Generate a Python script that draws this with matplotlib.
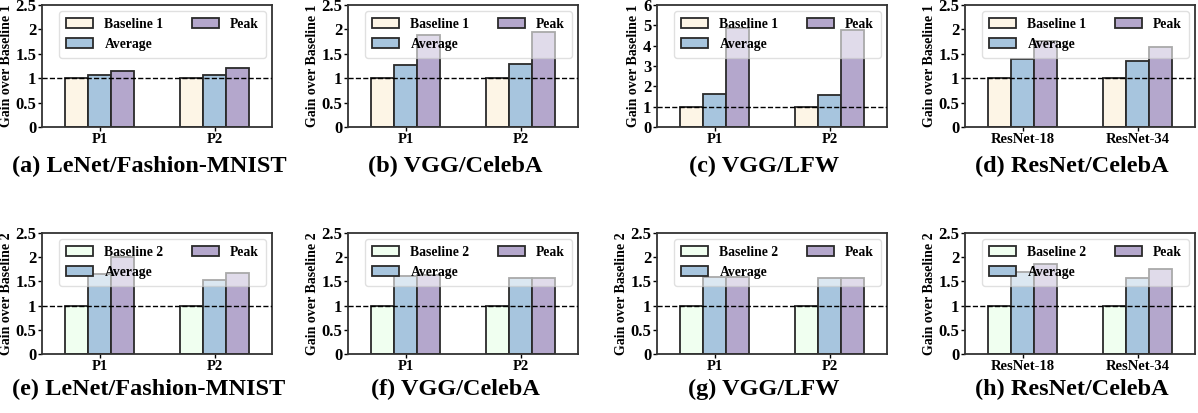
import matplotlib
matplotlib.use('Agg')
import matplotlib.pyplot as plt
import numpy as np

plt.rcParams['font.family'] = ['Liberation Serif', 'DejaVu Serif']
plt.rcParams['font.weight'] = 'bold'

# data
TOP_GROUPS = [["P1", "P2"], ["P1", "P2"], ["P1", "P2"], ["ResNet-18", "ResNet-34"]]
TOP_TITLES = ["(a) LeNet/Fashion-MNIST", "(b) VGG/CelebA", "(c) VGG/LFW", "(d) ResNet/CelebA"]
TOP_AVG = [[1.07, 1.07], [1.27, 1.30], [1.61, 1.57], [1.39, 1.35]]
TOP_PEAK = [[1.15, 1.21], [1.88, 1.94], [4.85, 4.75], [1.76, 1.63]]
TOP_YMAX = [2.5, 2.5, 6, 2.5]

BOT_GROUPS = [["P1", "P2"], ["P1", "P2"], ["P1", "P2"], ["ResNet-18", "ResNet-34"]]
BOT_TITLES = ["(e) LeNet/Fashion-MNIST", "(f) VGG/CelebA", "(g) VGG/LFW", "(h) ResNet/CelebA"]
BOT_AVG = [[1.65, 1.52], [1.61, 1.56], [1.60, 1.56], [1.70, 1.56]]
BOT_PEAK = [[2.01, 1.68], [1.63, 1.56], [1.60, 1.56], [1.85, 1.75]]
BOT_YMAX = [2.5, 2.5, 2.5, 2.5]

C_BASE1 = '#fdf5e6'
C_BASE2 = '#f0fff0'
C_AVG = '#a7c5de'
C_PEAK = '#b4a7cc'

W, H = 1198, 413
fig = plt.figure(figsize=(W / 100, H / 100), dpi=100)

LEFTS = [42, 348, 657, 965]
AX_W = 230
ROWS = [(5, 127), (233, 354)]
TITLE_Y = [166, 389]


def draw_panel(ax, groups, avg, peak, ymax, base_label, base_color):
    x = np.arange(len(groups))
    bw = 0.2
    kw = dict(width=bw, edgecolor='#2a2a2a', linewidth=1.3)
    ax.bar(x - bw, np.ones(len(groups)), color=base_color, label=base_label, **kw)
    ax.bar(x, avg, color=C_AVG, label='Average', **kw)
    ax.bar(x + bw, peak, color=C_PEAK, label='Peak', **kw)
    ax.axhline(1, color='black', linestyle='--', linewidth=1, zorder=3)
    ax.set_xlim(-0.5, 1.5)
    ax.set_ylim(0, ymax)
    ax.set_xticks(x)
    ax.set_xticklabels(groups, fontsize=10.5, fontweight='bold')
    if ymax == 6:
        ax.set_yticks([0, 1, 2, 3, 4, 5, 6])
        ax.set_yticklabels(['0', '1', '2', '3', '4', '5', '6'], fontsize=12, fontweight='bold')
    else:
        ax.set_yticks([0, 0.5, 1, 1.5, 2, 2.5])
        ax.set_yticklabels(['0', '0.5', '1', '1.5', '2', '2.5'], fontsize=12, fontweight='bold')
    ax.tick_params(axis='both', length=3, width=1, pad=1)
    ax.set_ylabel('Gain over ' + base_label, fontsize=10, fontweight='bold', labelpad=2)
    for s in ax.spines.values():
        s.set_linewidth(1.3)
        s.set_color('#333333')
    leg = ax.legend(ncol=2, loc='upper right', prop={'weight': 'bold', 'size': 9.8},
                    handlelength=2.0, handleheight=0.7, columnspacing=2.1,
                    framealpha=0.6, borderaxespad=0.45, labelspacing=0.5,
                    handletextpad=0.8, borderpad=0.5)
    leg.get_frame().set_edgecolor('#cccccc')


for r, (groups_l, titles, avgs, peaks, ymaxs, blabel, bcolor) in enumerate([
        (TOP_GROUPS, TOP_TITLES, TOP_AVG, TOP_PEAK, TOP_YMAX, 'Baseline 1', C_BASE1),
        (BOT_GROUPS, BOT_TITLES, BOT_AVG, BOT_PEAK, BOT_YMAX, 'Baseline 2', C_BASE2)]):
    top, bot = ROWS[r]
    for c in range(4):
        left = LEFTS[c]
        ax = fig.add_axes([left / W, 1 - bot / H, AX_W / W, (bot - top) / H])
        draw_panel(ax, groups_l[c], avgs[c], peaks[c], ymaxs[c], blabel, bcolor)
        cx = left + AX_W / 2 - 8
        fig.text(cx / W, 1 - TITLE_Y[r] / H, titles[c], ha='center', va='center',
                 fontsize=17.5, fontweight='bold')

fig.savefig('out.png', dpi=100)
